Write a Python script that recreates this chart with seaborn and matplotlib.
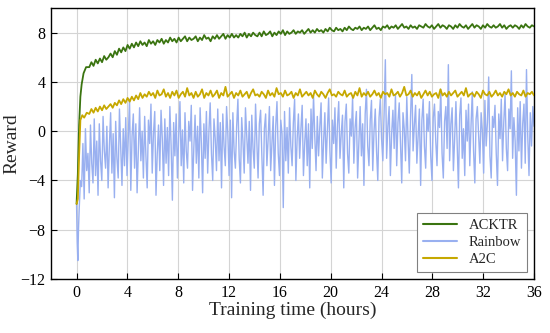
import numpy as np
import pandas as pd
import matplotlib
matplotlib.use("Agg")
import matplotlib.pyplot as plt
import seaborn as sns

# ---- data ----
acktr_t_early = [0.0, 0.1, 0.2, 0.3, 0.4, 0.55, 0.75]
acktr_early = [-5.9, -3.5, 0.5, 2.8, 3.8, 4.7, 5.2]
acktr_late = [
    5.2, 5.6, 5.3, 5.8, 5.5, 5.9, 5.6, 6.1, 5.8, 6.0,
    6.3, 6.0, 6.5, 6.2, 6.7, 6.4, 6.8, 6.5, 7.0, 6.7,
    7.1, 6.8, 7.2, 6.9, 7.3, 7.0, 7.2, 6.9, 7.4, 7.1,
    7.3, 7.0, 7.4, 7.2, 7.5, 7.1, 7.4, 7.2, 7.6, 7.3,
    7.5, 7.2, 7.6, 7.3, 7.5, 7.7, 7.3, 7.6, 7.4, 7.5,
    7.7, 7.3, 7.6, 7.4, 7.8, 7.5, 7.6, 7.3, 7.7, 7.5,
    7.8, 7.5, 7.7, 7.9, 7.5, 7.8, 7.6, 7.9, 7.6, 7.8,
    7.6, 7.9, 7.7, 8.0, 7.6, 7.9, 7.7, 8.0, 7.8, 7.7,
    8.0, 7.7, 8.1, 7.8, 7.9, 8.1, 7.7, 8.0, 7.8, 8.1,
    7.9, 8.2, 7.8, 8.1, 7.9, 8.0, 8.2, 7.9, 8.1, 8.0,
    8.2, 7.9, 8.1, 8.3, 8.0, 8.2, 8.0, 8.3, 8.1, 8.2,
    8.0, 8.3, 8.1, 8.4, 8.2, 8.1, 8.4, 8.2, 8.3, 8.1,
    8.4, 8.2, 8.5, 8.3, 8.2, 8.4, 8.3, 8.5, 8.2, 8.4,
    8.3, 8.5, 8.2, 8.4, 8.6, 8.3, 8.4, 8.2, 8.5, 8.4,
    8.6, 8.3, 8.5, 8.4, 8.6, 8.3, 8.5, 8.7, 8.4, 8.5,
    8.3, 8.6, 8.4, 8.5, 8.3, 8.6, 8.5, 8.4, 8.7, 8.5,
    8.4, 8.6, 8.3, 8.5, 8.7, 8.4, 8.6, 8.5, 8.3, 8.6,
    8.5, 8.3, 8.6, 8.4, 8.7, 8.5, 8.4, 8.6, 8.3, 8.5,
    8.7, 8.4, 8.6, 8.5, 8.3, 8.6, 8.4, 8.7, 8.5, 8.4,
    8.6, 8.4, 8.5, 8.7, 8.4, 8.6, 8.3, 8.5, 8.6, 8.4,
    8.6, 8.5, 8.3, 8.6, 8.4, 8.7, 8.5, 8.4, 8.6, 8.5,
]

a2c_t_early = [0.0, 0.1, 0.2, 0.3, 0.45, 0.6, 0.8]
a2c_early = [-5.9, -5.5, -2.0, 0.9, 1.3, 1.1, 1.5]
a2c_late = [
    1.4, 1.8, 1.5, 1.9, 1.6, 2.0, 1.7, 2.1, 1.8, 2.0,
    2.2, 1.9, 2.3, 2.1, 2.5, 2.2, 2.6, 2.3, 2.7, 2.4,
    2.8, 2.5, 2.9, 2.6, 3.1, 2.7, 3.0, 2.8, 3.2, 2.9,
    3.1, 2.7, 3.3, 2.9, 3.0, 3.4, 2.8, 3.1, 2.7, 3.2,
    2.9, 3.3, 2.7, 3.0, 3.2, 2.8, 3.5, 2.9, 3.1, 2.7,
    3.2, 2.8, 3.0, 3.4, 2.7, 3.1, 2.9, 3.3, 2.8, 3.0,
    3.3, 2.7, 3.1, 2.9, 3.6, 2.8, 3.0, 3.2, 2.7, 3.1,
    2.9, 3.3, 2.8, 3.0, 3.2, 2.7, 3.1, 3.4, 2.9, 3.0,
    2.8, 3.2, 3.0, 2.7, 3.3, 2.9, 3.1, 2.8, 3.5, 3.0,
    3.1, 2.8, 3.3, 2.9, 3.0, 3.2, 2.7, 3.1, 2.9, 3.4,
    2.8, 3.0, 3.2, 2.9, 3.1, 2.7, 3.3, 3.0, 2.8, 3.2,
    3.0, 2.7, 3.1, 3.4, 2.9, 3.0, 2.8, 3.2, 3.0, 2.9,
    3.3, 2.8, 3.0, 3.1, 2.7, 3.2, 2.9, 3.5, 2.8, 3.1,
    2.9, 3.2, 2.8, 3.0, 3.3, 2.9, 3.1, 2.7, 3.2, 3.0,
    3.1, 2.8, 3.4, 2.9, 3.0, 3.2, 2.8, 3.1, 3.6, 2.9,
    3.0, 3.3, 2.8, 3.1, 2.9, 3.2, 2.7, 3.0, 3.3, 2.9,
    3.2, 2.8, 3.0, 3.1, 2.7, 3.4, 2.9, 3.1, 2.8, 3.2,
    2.9, 3.1, 3.3, 2.8, 3.0, 3.2, 2.9, 3.5, 2.8, 3.0,
    3.1, 2.8, 3.2, 3.0, 2.7, 3.3, 3.0, 2.9, 3.2, 2.8,
    3.0, 3.3, 2.9, 3.1, 2.8, 3.2, 3.0, 3.4, 2.9, 3.1,
    2.8, 3.2, 3.0, 2.9, 3.3, 2.8, 3.1, 3.0, 3.2, 2.9,
]

rainbow_t_early = [0.0, 0.05, 0.1, 0.15, 0.2, 0.3]
rainbow_early = [-6.0, -9.0, -10.5, -8.0, -6.5, -4.0]
rainbow_late = [
    -4.5, -1.0, -5.5, 0.2, -3.2, -1.8, -5.0, 0.5, -2.6, -4.2,
    1.0, -3.6, -0.8, -5.2, 0.6, -2.4, -4.0, 1.2, -1.6, -3.0,
    0.4, -4.6, -1.2, 1.5, -3.4, -0.2, -5.4, 0.8, -2.2, -3.8,
    1.8, -1.4, -4.4, 0.2, -2.8, 1.1, -3.6, -0.6, 2.6, -4.8,
    -0.4, 1.4, -3.0, 0.6, -5.0, -1.6, 1.9, -2.4, 0.0, -3.8,
    1.2, -2.0, -4.6, 0.9, -1.0, 2.2, -3.4, -0.2, 1.6, -5.2,
    -1.8, 0.5, -3.2, 1.7, -0.6, -4.4, 1.0, -2.6, 0.3, -3.6,
    2.0, -1.2, -5.6, 0.7, -2.0, 1.4, -3.8, -0.4, 2.4, -2.8,
    0.1, -4.2, 1.5, -1.6, -3.0, 0.8, -0.8, 2.1, -4.8, -1.4,
    1.3, -2.6, 0.4, -3.8, 1.9, -1.0, -5.0, 0.6, -2.2, 1.6,
    -3.4, 0.0, 2.3, -1.8, -4.0, 1.0, -0.6, -3.2, 1.8, -2.4,
    0.7, -4.6, 1.4, -1.2, -2.8, 2.0, -0.2, -3.6, 0.9, -5.4,
    1.5, -1.6, -3.0, 0.4, 2.6, -2.2, -4.2, 1.1, -0.8, -3.4,
    1.9, -0.4, -2.6, 0.8, -4.8, 1.3, -1.4, -3.0, 2.2, -0.8,
    -3.8, 0.6, 1.7, -2.0, -5.2, 0.2, 1.4, -2.8, -0.6, 2.0,
    -3.2, -1.0, 1.2, -4.4, 0.4, 2.4, -1.8, -3.6, 0.9, -0.2,
    -6.2, 1.6, -2.4, 0.3, -3.4, 1.9, -1.2, -2.8, 0.7, 2.6,
    -4.0, -0.6, 1.4, -2.2, 0.2, 2.1, -3.6, -1.0, 1.0, -2.8,
    0.6, -4.6, 1.8, -1.4, 2.9, -0.4, -3.2, 1.2, -2.0, 0.4,
    2.3, -3.8, -0.8, 1.5, -2.6, 0.1, 2.7, -1.6, -4.2, 0.9,
    -1.0, 1.9, -3.0, 0.5, 2.4, -2.2, -0.2, 1.3, -4.6, 0.8,
    2.2, -1.8, -3.4, 1.0, -0.4, 2.8, -2.6, 0.3, 1.6, -3.8,
    -0.8, 2.0, -2.0, 0.6, -4.4, 1.4, 3.4, -1.2, -2.8, 0.9,
    2.5, -3.2, 0.0, 1.8, -1.6, -4.0, 1.1, 2.6, -0.6, -2.4,
    1.4, 5.8, -2.2, 0.4, 2.0, -3.6, -0.2, 1.7, -1.4, 3.0,
    -2.8, 0.7, 2.3, -1.0, -4.2, 1.5, 0.2, -2.4, 2.8, -0.6,
    -3.4, 1.2, 4.6, -1.6, 0.5, 2.1, -2.6, -0.4, 1.8, -4.4,
    0.9, 2.6, -1.2, -3.0, 1.4, 0.0, 2.4, -2.0, -4.0, 1.1,
    2.2, -0.8, -2.8, 1.6, 0.3, 3.4, -1.8, -3.8, 0.8, 2.0,
    -1.4, 5.4, -2.4, 0.6, 1.9, -3.2, -0.6, 2.4, -1.0, -4.6,
    1.3, 2.7, -2.2, 0.2, -3.6, 1.7, -0.8, 2.2, -2.8, 0.5,
    3.2, -1.6, -4.2, 1.0, 2.0, -0.4, -2.6, 1.5, 0.0, -3.4,
    2.5, -1.2, 0.7, 4.4, -2.0, -3.8, 1.2, 0.3, 2.1, -1.8,
    -4.4, 1.4, -0.6, 2.6, -2.4, 0.8, 3.0, -1.4, -3.2, 1.8,
    0.2, 4.9, -2.2, 1.1, -0.8, -5.2, 1.9, -1.6, 2.4, -3.0,
    0.6, 2.2, -2.6, 5.0, -0.4, -3.6, 1.5, -1.2, 2.0, 0.4,
]

xticks = [0, 4, 8, 12, 16, 20, 24, 28, 32, 36]
yticks = [-12, -8, -4, 0, 4, 8]
colors = {"ACKTR": "#3a7410", "Rainbow": "#99b0f0", "A2C": "#c6a800"}


def build(name, t_early, v_early, v_late, start):
    t = list(t_early) + list(np.linspace(start, 36, len(v_late)))
    return pd.DataFrame({"time": t, "reward": list(v_early) + list(v_late), "algo": name})


df = pd.concat([
    build("ACKTR", acktr_t_early, acktr_early, acktr_late, 1.0),
    build("Rainbow", rainbow_t_early, rainbow_early, rainbow_late, 0.4),
    build("A2C", a2c_t_early, a2c_early, a2c_late, 1.0),
], ignore_index=True)

sns.set_style("whitegrid")
plt.rcParams["font.family"] = ["Liberation Serif", "DejaVu Serif"]

fig = plt.figure(figsize=(5.5, 3.33), dpi=100)
ax = fig.add_axes([0.093, 0.162, 0.878, 0.814])

widths = {"ACKTR": 1.3, "Rainbow": 1.0, "A2C": 1.3}
zorders = {"ACKTR": 3, "Rainbow": 2, "A2C": 4}
for name in ["ACKTR", "Rainbow", "A2C"]:
    sub = df[df["algo"] == name]
    sns.lineplot(data=sub, x="time", y="reward", color=colors[name], lw=widths[name],
                 estimator=None, sort=False, label=name, ax=ax, zorder=zorders[name])

ax.set_xlim(-2, 36)
ax.set_ylim(-12, 10)
ax.set_xticks(xticks)
ax.set_yticks(yticks)
ax.set_yticklabels([str(v).replace("-", "\u2212") for v in yticks])
ax.grid(True, color="#d4d4d4", lw=0.8)
for s in ax.spines.values():
    s.set_color("black")
    s.set_linewidth(1.0)
ax.tick_params(direction="in", length=4, width=0.8, labelsize=11.5, colors="black",
               bottom=True, left=True, pad=4)
ax.set_xlabel("Training time (hours)", fontsize=14, labelpad=1)
ax.set_ylabel("Reward", fontsize=14, labelpad=0)

leg = ax.legend(loc="lower right", fontsize=10.5, frameon=True, fancybox=False,
                edgecolor="#808080", framealpha=1, handlelength=2.3, borderpad=0.4,
                labelspacing=0.25, borderaxespad=0.5)
for h in leg.get_lines():
    h.set_linewidth(1.5)
leg.get_frame().set_linewidth(0.8)

fig.savefig("out.png", dpi=100)
